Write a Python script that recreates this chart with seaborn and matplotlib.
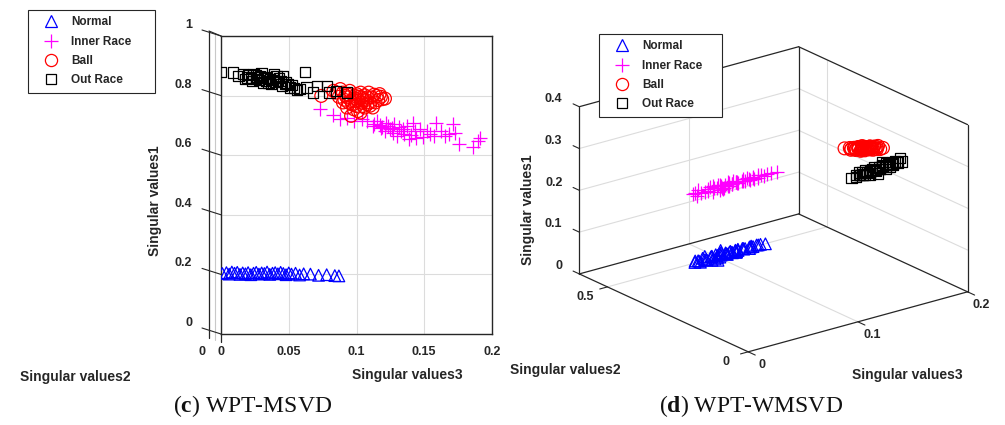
import numpy as np
import pandas as pd
import matplotlib
matplotlib.use("Agg")
import matplotlib.pyplot as plt
import seaborn as sns
from matplotlib.lines import Line2D
from matplotlib.transforms import offset_copy
from mpl_toolkits.mplot3d import proj3d

# ---------------- WPT-MSVD features (singular values 3 vs 1) ----------------
msvd_normal_sv3 = [0.001, 0.004, 0.006, 0.008, 0.010, 0.012, 0.014, 0.016, 0.018, 0.020,
                   0.022, 0.024, 0.026, 0.028, 0.030, 0.032, 0.034, 0.036, 0.038, 0.040,
                   0.042, 0.044, 0.046, 0.048, 0.050, 0.052, 0.055, 0.058, 0.061, 0.066,
                   0.072, 0.078, 0.084, 0.087]
msvd_normal_sv1 = [0.203, 0.206, 0.201, 0.208, 0.204, 0.207, 0.200, 0.205, 0.202, 0.206,
                   0.199, 0.204, 0.207, 0.201, 0.205, 0.203, 0.208, 0.200, 0.204, 0.206,
                   0.202, 0.207, 0.203, 0.199, 0.205, 0.201, 0.204, 0.198, 0.202, 0.201,
                   0.197, 0.199, 0.196, 0.195]

msvd_inner_sv3 = [0.073, 0.083, 0.088, 0.093, 0.098, 0.104, 0.108, 0.112, 0.115, 0.119,
                  0.121, 0.122, 0.125, 0.128, 0.130, 0.131, 0.133, 0.135, 0.137, 0.139,
                  0.142, 0.143, 0.144, 0.147, 0.152, 0.154, 0.157, 0.159, 0.162, 0.165,
                  0.171, 0.173, 0.176, 0.186, 0.190, 0.191, 0.117, 0.126, 0.113, 0.118,
                  0.123, 0.127, 0.134, 0.140, 0.149, 0.168]
msvd_inner_sv1 = [0.754, 0.735, 0.721, 0.726, 0.715, 0.721, 0.715, 0.698, 0.715, 0.693,
                  0.681, 0.709, 0.687, 0.704, 0.665, 0.693, 0.681, 0.670, 0.698, 0.653,
                  0.709, 0.681, 0.659, 0.687, 0.681, 0.670, 0.665, 0.709, 0.681, 0.665,
                  0.704, 0.676, 0.636, 0.628, 0.648, 0.659, 0.703, 0.692, 0.706, 0.690,
                  0.699, 0.676, 0.688, 0.669, 0.662, 0.672]

msvd_ball_sv3 = [0.074, 0.083, 0.085, 0.088, 0.090, 0.090, 0.092, 0.093, 0.093, 0.094,
                 0.095, 0.096, 0.096, 0.098, 0.099, 0.099, 0.100, 0.100, 0.101, 0.103,
                 0.103, 0.104, 0.105, 0.105, 0.106, 0.108, 0.108, 0.109, 0.110, 0.111,
                 0.112, 0.114, 0.115, 0.117, 0.119, 0.087, 0.091, 0.094, 0.097, 0.099,
                 0.102, 0.104, 0.106, 0.107, 0.110, 0.113, 0.116, 0.118, 0.121, 0.101]
msvd_ball_sv1 = [0.799, 0.816, 0.810, 0.822, 0.810, 0.777, 0.799, 0.794, 0.760, 0.777,
                 0.816, 0.782, 0.732, 0.754, 0.799, 0.782, 0.765, 0.805, 0.782, 0.810,
                 0.743, 0.794, 0.788, 0.765, 0.760, 0.771, 0.794, 0.810, 0.777, 0.794,
                 0.760, 0.777, 0.799, 0.805, 0.788, 0.796, 0.786, 0.803, 0.770, 0.790,
                 0.796, 0.776, 0.801, 0.785, 0.766, 0.803, 0.785, 0.796, 0.790, 0.748]

msvd_outer_sv3 = [0.000, 0.009, 0.013, 0.016, 0.019, 0.020, 0.022, 0.024, 0.026, 0.026,
                  0.028, 0.029, 0.030, 0.031, 0.033, 0.034, 0.036, 0.037, 0.039, 0.040,
                  0.042, 0.043, 0.044, 0.045, 0.046, 0.047, 0.048, 0.051, 0.052, 0.056,
                  0.062, 0.063, 0.068, 0.071, 0.078, 0.080, 0.085, 0.093, 0.018, 0.023,
                  0.027, 0.032, 0.035, 0.038, 0.041, 0.049, 0.054, 0.058]
msvd_outer_sv1 = [0.880, 0.878, 0.866, 0.872, 0.861, 0.868, 0.860, 0.872, 0.855, 0.870,
                  0.852, 0.866, 0.875, 0.844, 0.850, 0.861, 0.856, 0.838, 0.872, 0.845,
                  0.849, 0.858, 0.850, 0.833, 0.866, 0.840, 0.844, 0.827, 0.835, 0.819,
                  0.880, 0.827, 0.810, 0.833, 0.833, 0.810, 0.816, 0.810, 0.855, 0.849,
                  0.862, 0.858, 0.843, 0.853, 0.864, 0.838, 0.826, 0.822]

# ---------------- WPT-WMSVD features (singular values 3, 2, 1) ----------------
wmsvd_normal_sv3 = [0.070, 0.072, 0.075, 0.078, 0.080, 0.083, 0.085, 0.087, 0.089, 0.091,
                    0.093, 0.095, 0.097, 0.099, 0.101, 0.103, 0.105, 0.107, 0.109, 0.111,
                    0.113, 0.115, 0.118, 0.121, 0.124, 0.127, 0.130, 0.133, 0.088, 0.096,
                    0.104, 0.110, 0.071, 0.074, 0.077, 0.079, 0.082, 0.084, 0.086, 0.090,
                    0.092, 0.094, 0.098, 0.100, 0.102, 0.106, 0.108, 0.112, 0.116, 0.119,
                    0.122, 0.126]
wmsvd_normal_sv2 = [0.462, 0.455, 0.470, 0.458, 0.466, 0.452, 0.461, 0.468, 0.456, 0.463,
                    0.459, 0.471, 0.454, 0.465, 0.460, 0.457, 0.467, 0.453, 0.462, 0.469,
                    0.458, 0.464, 0.455, 0.461, 0.466, 0.459, 0.463, 0.457, 0.450, 0.472,
                    0.448, 0.474, 0.465, 0.458, 0.462, 0.455, 0.468, 0.460, 0.452, 0.466,
                    0.459, 0.463, 0.456, 0.470, 0.461, 0.454, 0.467, 0.457, 0.463, 0.459,
                    0.465, 0.461]
wmsvd_normal_sv1 = [0.020, 0.024, 0.018, 0.022, 0.026, 0.019, 0.023, 0.021, 0.025, 0.017,
                    0.022, 0.020, 0.024, 0.019, 0.023, 0.021, 0.018, 0.025, 0.022, 0.020,
                    0.024, 0.019, 0.021, 0.023, 0.018, 0.022, 0.020, 0.021, 0.016, 0.027,
                    0.024, 0.017, 0.022, 0.019, 0.025, 0.021, 0.017, 0.024, 0.020, 0.023,
                    0.018, 0.026, 0.021, 0.019, 0.024, 0.022, 0.018, 0.025, 0.020, 0.023,
                    0.019, 0.022]

wmsvd_inner_sv3 = [0.066, 0.068, 0.071, 0.076, 0.079, 0.082, 0.084, 0.087, 0.089, 0.091,
                   0.093, 0.095, 0.097, 0.099, 0.101, 0.103, 0.105, 0.107, 0.109, 0.111,
                   0.114, 0.117, 0.119, 0.121, 0.124, 0.127, 0.130, 0.136, 0.142, 0.094,
                   0.100, 0.088, 0.067, 0.073, 0.078, 0.081, 0.086, 0.090, 0.092, 0.096,
                   0.098, 0.102, 0.104, 0.106, 0.110, 0.113, 0.116, 0.120, 0.125, 0.133]
wmsvd_inner_sv2 = [0.452, 0.447, 0.455, 0.449, 0.451, 0.446, 0.454, 0.450, 0.448, 0.453,
                   0.447, 0.452, 0.449, 0.455, 0.451, 0.446, 0.450, 0.453, 0.448, 0.452,
                   0.449, 0.451, 0.447, 0.454, 0.450, 0.448, 0.452, 0.449, 0.451, 0.456,
                   0.444, 0.450, 0.449, 0.453, 0.447, 0.451, 0.455, 0.448, 0.452, 0.446,
                   0.450, 0.454, 0.449, 0.451, 0.447, 0.453, 0.450, 0.448, 0.452, 0.450]
wmsvd_inner_sv1 = [0.190, 0.185, 0.194, 0.188, 0.192, 0.186, 0.195, 0.189, 0.183, 0.193,
                   0.187, 0.191, 0.196, 0.184, 0.190, 0.193, 0.188, 0.186, 0.192, 0.189,
                   0.194, 0.187, 0.191, 0.190, 0.188, 0.193, 0.186, 0.190, 0.189, 0.181,
                   0.198, 0.197, 0.193, 0.187, 0.191, 0.196, 0.188, 0.192, 0.185, 0.190,
                   0.194, 0.187, 0.192, 0.189, 0.195, 0.186, 0.191, 0.188, 0.192, 0.189]

wmsvd_ball_sv3 = [0.152, 0.156, 0.159, 0.161, 0.163, 0.164, 0.165, 0.166, 0.167, 0.168,
                  0.169, 0.170, 0.171, 0.172, 0.173, 0.174, 0.175, 0.176, 0.177, 0.178,
                  0.180, 0.182, 0.184, 0.187, 0.166, 0.171, 0.176, 0.158, 0.160, 0.162,
                  0.165, 0.167, 0.169, 0.170, 0.172, 0.174, 0.175, 0.177, 0.179, 0.181,
                  0.183, 0.168]
wmsvd_ball_sv2 = [0.250, 0.247, 0.253, 0.249, 0.252, 0.246, 0.251, 0.254, 0.248, 0.250,
                  0.253, 0.247, 0.251, 0.249, 0.252, 0.248, 0.250, 0.254, 0.246, 0.251,
                  0.249, 0.252, 0.248, 0.250, 0.247, 0.253, 0.249, 0.251, 0.248, 0.250,
                  0.252, 0.249, 0.251, 0.248, 0.250, 0.252, 0.249, 0.251, 0.250, 0.248,
                  0.252, 0.250]
wmsvd_ball_sv1 = [0.300, 0.299, 0.293, 0.295, 0.290, 0.294, 0.288, 0.292, 0.287, 0.291,
                  0.285, 0.290, 0.284, 0.288, 0.283, 0.287, 0.281, 0.286, 0.280, 0.284,
                  0.279, 0.281, 0.276, 0.276, 0.285, 0.289, 0.283, 0.292, 0.296, 0.289,
                  0.293, 0.286, 0.290, 0.283, 0.287, 0.282, 0.288, 0.281, 0.285, 0.278,
                  0.283, 0.294]

wmsvd_outer_sv3 = [0.151, 0.154, 0.156, 0.158, 0.160, 0.162, 0.163, 0.165, 0.166, 0.168,
                   0.169, 0.171, 0.172, 0.174, 0.175, 0.177, 0.178, 0.180, 0.181, 0.183,
                   0.185, 0.187, 0.189, 0.192, 0.195, 0.196, 0.164, 0.173, 0.179, 0.157,
                   0.161, 0.167, 0.170, 0.176, 0.182, 0.184, 0.186, 0.188, 0.190, 0.193,
                   0.159]
wmsvd_outer_sv2 = [0.221, 0.218, 0.224, 0.220, 0.217, 0.223, 0.219, 0.222, 0.216, 0.221,
                   0.225, 0.218, 0.220, 0.223, 0.217, 0.221, 0.219, 0.224, 0.218, 0.222,
                   0.220, 0.217, 0.223, 0.219, 0.221, 0.218, 0.226, 0.214, 0.222, 0.219,
                   0.222, 0.220, 0.223, 0.218, 0.221, 0.219, 0.222, 0.220, 0.218, 0.221,
                   0.223]
wmsvd_outer_sv1 = [0.238, 0.244, 0.236, 0.247, 0.241, 0.239, 0.249, 0.243, 0.237, 0.246,
                   0.240, 0.251, 0.244, 0.238, 0.248, 0.242, 0.252, 0.245, 0.240, 0.250,
                   0.246, 0.253, 0.243, 0.249, 0.255, 0.247, 0.235, 0.236, 0.256, 0.242,
                   0.246, 0.240, 0.245, 0.244, 0.243, 0.249, 0.241, 0.247, 0.251, 0.246,
                   0.239]

CLASSES = ["Normal", "Inner Race", "Ball", "Out Race"]
LEFT_TICKS_X = [0, 0.05, 0.1, 0.15, 0.2]
LEFT_TICKLABELS_X = ["0", "0.05", "0.1", "0.15", "0.2"]
LEFT_TICKS_Y = [0, 0.2, 0.4, 0.6, 0.8, 1.0]
LEFT_TICKLABELS_Y = ["0", "0.2", "0.4", "0.6", "0.8", "1"]
RIGHT_TICKS_SV3 = [0, 0.1, 0.2]
RIGHT_TICKS_SV2 = [0, 0.5]
RIGHT_TICKS_SV1 = [0, 0.1, 0.2, 0.3, 0.4]

msvd = pd.concat([
    pd.DataFrame({"fault": c, "sv3": x, "sv1": y})
    for c, x, y in [("Normal", msvd_normal_sv3, msvd_normal_sv1),
                    ("Inner Race", msvd_inner_sv3, msvd_inner_sv1),
                    ("Ball", msvd_ball_sv3, msvd_ball_sv1),
                    ("Out Race", msvd_outer_sv3, msvd_outer_sv1)]
], ignore_index=True)

wmsvd = pd.concat([
    pd.DataFrame({"fault": c, "sv3": x, "sv2": y, "sv1": z})
    for c, x, y, z in [("Normal", wmsvd_normal_sv3, wmsvd_normal_sv2, wmsvd_normal_sv1),
                       ("Inner Race", wmsvd_inner_sv3, wmsvd_inner_sv2, wmsvd_inner_sv1),
                       ("Ball", wmsvd_ball_sv3, wmsvd_ball_sv2, wmsvd_ball_sv1),
                       ("Out Race", wmsvd_outer_sv3, wmsvd_outer_sv2, wmsvd_outer_sv1)]
], ignore_index=True)

# ---------------- styling ----------------
COLORS = {"Normal": "#0000ff", "Inner Race": "#ff00ff", "Ball": "#ff0000", "Out Race": "#000000"}
MARKERS = {"Normal": "^", "Inner Race": "+", "Ball": "o", "Out Race": "s"}
SIZES = {"Normal": 70, "Inner Race": 110, "Ball": 85, "Out Race": 55}
INK = "#262626"
GRID = "#dcdcdc"
LW = 0.9

sns.set_theme(style="white")
plt.rcParams["font.family"] = ["Liberation Sans", "DejaVu Sans"]
plt.rcParams["font.weight"] = "bold"
plt.rcParams["mathtext.fontset"] = "custom"
plt.rcParams["mathtext.rm"] = "Liberation Serif"
plt.rcParams["mathtext.bf"] = "Liberation Serif:bold"

W, H = 1005, 425
fig = plt.figure(figsize=(W / 100, H / 100), dpi=100)


def fx(x):
    return x / W


def fy(y):
    return 1 - y / H


def legend_for(x0, y0, x1, y1):
    handles = [Line2D([], [], ls="none", marker=MARKERS[c], color=COLORS[c],
                      mfc="none", mec=COLORS[c], ms=np.sqrt(SIZES[c]) * 0.95, mew=LW)
               for c in CLASSES]
    leg = fig.legend(handles, CLASSES, loc="upper left",
                     bbox_to_anchor=(fx(x0), fy(y1), fx(x1) - fx(x0), fy(y0) - fy(y1)),
                     mode="expand", borderaxespad=0, borderpad=0.55,
                     handlelength=2.8, handletextpad=0.3, labelspacing=0.62,
                     prop={"weight": "bold", "size": 8.5}, fancybox=False,
                     framealpha=1, edgecolor=INK)
    leg.get_frame().set_linewidth(0.8)
    return leg


# ================= (c) WPT-MSVD =================
ax1 = fig.add_axes([fx(221), fy(334), fx(492) - fx(221), fy(36) - fy(334)])
for c in CLASSES:
    sub = msvd[msvd["fault"] == c]
    sns.scatterplot(data=sub, x="sv3", y="sv1", ax=ax1, color=COLORS[c],
                    marker=MARKERS[c], s=SIZES[c], linewidth=LW, legend=False, zorder=3)
    pts = ax1.collections[-1]
    if MARKERS[c] != "+":
        pts.set_facecolor("none")
        pts.set_edgecolor(COLORS[c])

ax1.set_xlim(0, 0.2)
ax1.set_ylim(0, 1)
ax1.set_xticks(LEFT_TICKS_X)
ax1.set_xticklabels(LEFT_TICKLABELS_X)
ax1.set_yticks(LEFT_TICKS_Y)
ax1.set_yticklabels([])
ax1.tick_params(axis="x", length=0, pad=8.5, labelsize=9, labelcolor=INK)
ax1.tick_params(axis="y", length=0, pad=0)
ax1.set_xlabel("")
ax1.set_ylabel("")
ax1.grid(True, color=GRID, lw=0.8)
ax1.set_axisbelow(True)
for sp in ax1.spines.values():
    sp.set_color(INK)
    sp.set_linewidth(1.0)

# value labels of the vertical axis sit on the slanted depth ticks
lab_tr = offset_copy(ax1.get_yaxis_transform(), fig=fig, x=-29, y=11, units="dots")
for v, t in zip(LEFT_TICKS_Y, LEFT_TICKLABELS_Y):
    ax1.text(0, v, t, transform=lab_tr, ha="right", va="center", fontsize=9,
             color=INK, clip_on=False)
    ax1.annotate("", xy=(0, v), xycoords=ax1.get_yaxis_transform(),
                 xytext=(-19, 6), textcoords="offset pixels",
                 arrowprops=dict(arrowstyle="-", color=INK, lw=0.8,
                                 shrinkA=0, shrinkB=0))

# receding edges of the box (depth axis seen almost end-on)
bw, bh = 271.0, 298.0
ax1.plot([-12 / bw, -12 / bw], [-4 / bh, 1 + 5 / bh], transform=ax1.transAxes,
         clip_on=False, color=INK, lw=0.9)
ax1.plot([-6.5 / bw, -6.5 / bw], [-6 / bh, 1 + 2 / bh], transform=ax1.transAxes,
         clip_on=False, color="#c8c8c8", lw=0.8)
ax1.plot([-12 / bw, 0], [1 + 5 / bh, 1], transform=ax1.transAxes,
         clip_on=False, color=INK, lw=0.8)
ax1.plot([0, 0], [0, -8 / bh], transform=ax1.transAxes, clip_on=False, color=INK, lw=0.9)

fig.text(fx(202), fy(352), "0", ha="center", va="center", fontsize=9, color=INK)
fig.text(fx(155), fy(201), "Singular values1", rotation=90, ha="center", va="center",
         fontsize=10, color=INK)
fig.text(fx(75), fy(377), "Singular values2", ha="center", va="center", fontsize=10, color=INK)
fig.text(fx(407), fy(375), "Singular values3", ha="center", va="center", fontsize=10, color=INK)
legend_for(28, 10, 155, 98)

# ================= (d) WPT-WMSVD =================
XMAX, YMAX, ZMAX = 0.2, 0.6, 0.4
ax2 = fig.add_axes([fx(640), fy(330), 250 / W, 250 / H], projection="3d",
                   proj_type="ortho", computed_zorder=False)
ax2.set_facecolor((1, 1, 1, 0))
for t in (ax2.title, ax2._left_title, ax2._right_title):
    t.set_visible(False)
# the built-in 3D axis texts are unused; park them inside the panel
for axis in (ax2.xaxis, ax2.yaxis, ax2.zaxis):
    for t in (axis.label, axis.offsetText):
        t.set_text("")
        t.set_transform(ax2.transAxes)
        t.set_position((0.5, 0.5))
        t.set_visible(False)
    axis.set_visible(False)
for c in CLASSES:
    sub = wmsvd[wmsvd["fault"] == c]
    if MARKERS[c] == "+":
        ax2.scatter(sub["sv3"], sub["sv2"], sub["sv1"], marker="+", color=COLORS[c],
                    s=SIZES[c], linewidths=LW, depthshade=False, zorder=5, clip_on=False)
    else:
        ax2.scatter(sub["sv3"], sub["sv2"], sub["sv1"], marker=MARKERS[c],
                    facecolors="none", edgecolors=COLORS[c], s=SIZES[c],
                    linewidths=LW, depthshade=False, zorder=5, clip_on=False)
ax2.set_xlim(0, XMAX)
ax2.set_ylim(0, YMAX)
ax2.set_zlim(0, ZMAX)
ax2.set_xticks([])
ax2.set_yticks([])
ax2.set_zticks([])
ax2.view_init(elev=20.8, azim=-127.6)
# zoomed projection keeps the (invisible) axes frame inside the figure
ax2.set_box_aspect((1, 1, 0.646), zoom=1.7)
ax2.set_axis_off()


def seg(p, q, color, lw, z):
    ax2.plot([p[0], q[0]], [p[1], q[1]], [p[2], q[2]], color=color, lw=lw, zorder=z,
             clip_on=False)


# grid on the two back walls and the floor
for z in RIGHT_TICKS_SV1[1:-1]:
    seg((0, YMAX, z), (XMAX, YMAX, z), GRID, 0.8, 1)
    seg((XMAX, 0, z), (XMAX, YMAX, z), GRID, 0.8, 1)
for x in RIGHT_TICKS_SV3[1:-1]:
    seg((x, YMAX, 0), (x, YMAX, ZMAX), GRID, 0.8, 1)
    seg((x, 0, 0), (x, YMAX, 0), GRID, 0.8, 1)
for y in RIGHT_TICKS_SV2[1:]:
    seg((XMAX, y, 0), (XMAX, y, ZMAX), GRID, 0.8, 1)
    seg((0, y, 0), (XMAX, y, 0), GRID, 0.8, 1)

# box edges
for p, q in [((0, YMAX, 0), (0, YMAX, ZMAX)), ((XMAX, YMAX, 0), (XMAX, YMAX, ZMAX)),
             ((XMAX, 0, 0), (XMAX, 0, ZMAX)), ((0, YMAX, ZMAX), (XMAX, YMAX, ZMAX)),
             ((XMAX, YMAX, ZMAX), (XMAX, 0, ZMAX)), ((0, YMAX, 0), (XMAX, YMAX, 0)),
             ((XMAX, YMAX, 0), (XMAX, 0, 0)), ((0, YMAX, 0), (0, 0, 0)),
             ((0, 0, 0), (XMAX, 0, 0))]:
    seg(p, q, INK, LW, 2)

# ticks and tick labels
for z in RIGHT_TICKS_SV1:
    seg((0, YMAX, z), (0, YMAX + 0.022, z), INK, 0.8, 2)
    ax2.text(0, YMAX + 0.06, z, f"{z:g}", ha="right", va="center", fontsize=9, color=INK)
for y in RIGHT_TICKS_SV2:
    seg((0, y, 0), (-0.007, y, 0), INK, 0.8, 2)
    ax2.text(-0.02, y, -0.01, f"{y:g}", ha="center", va="center", fontsize=9, color=INK)
for x in RIGHT_TICKS_SV3:
    seg((x, 0, 0), (x, -0.025, 0), INK, 0.8, 2)
    ax2.text(x, -0.05, -0.015, f"{x:g}", ha="center", va="center", fontsize=9, color=INK)


# place the 3D box so that its corners land where the panel layout wants them
def project(ax, pts):
    pts = np.asarray(pts, float)
    xs, ys, _ = proj3d.proj_transform(pts[:, 0], pts[:, 1], pts[:, 2], ax.get_proj())
    return ax.transData.transform(np.column_stack([xs, ys]))


corner_pts = [(0, YMAX, 0), (0, 0, 0), (XMAX, 0, 0), (XMAX, YMAX, ZMAX), (0, YMAX, ZMAX)]
corner_px = np.array([(579, 274), (748, 352), (968, 292), (798, 48), (580, 105)], float)
target = np.column_stack([corner_px[:, 0], H - corner_px[:, 1]])
for _ in range(3):
    fig.canvas.draw()
    P = project(ax2, corner_pts)
    Pm, Tm = P.mean(0), target.mean(0)
    s = ((P - Pm) * (target - Tm)).sum() / ((P - Pm) ** 2).sum()
    bb = ax2.get_position()
    cx, cy = (bb.x0 + bb.x1) / 2 * W, (bb.y0 + bb.y1) / 2 * H
    ncx = Tm[0] - s * (Pm[0] - cx)
    ncy = Tm[1] - s * (Pm[1] - cy)
    side = bb.width * W * s
    ax2.set_position([(ncx - side / 2) / W, (ncy - side / 2) / H, side / W, side / H])

fig.text(fx(528), fy(210), "Singular values1", rotation=90, ha="center", va="center",
         fontsize=10, color=INK)
fig.text(fx(565), fy(370), "Singular values2", ha="center", va="center", fontsize=10, color=INK)
fig.text(fx(907), fy(375), "Singular values3", ha="center", va="center", fontsize=10, color=INK)
legend_for(599, 34, 722, 119)

# captions
fig.text(fx(253), fy(406), r"($\mathbf{c}$) WPT-MSVD", ha="center", va="center",
         fontsize=17, family="Liberation Serif", fontweight="normal", color="#111111")
fig.text(fx(751), fy(406), r"($\mathbf{d}$) WPT-WMSVD", ha="center", va="center",
         fontsize=17, family="Liberation Serif", fontweight="normal", color="#111111")

fig.savefig("out.png", dpi=100, facecolor="white")
